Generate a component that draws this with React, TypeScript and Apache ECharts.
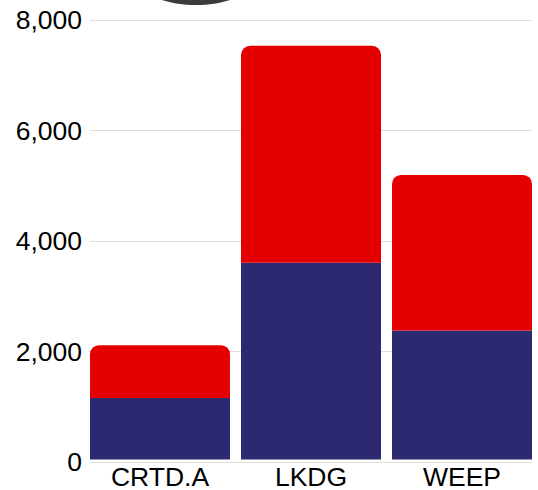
import React, { useEffect, useRef } from "react";
import * as echarts from "echarts";

const categories = ["CRTD.A", "LKDG", "WEEP"];
const blueValues = [1120, 3580, 2350];
const redValues = [960, 3950, 2830];
const yTicks = [0, 2000, 4000, 6000, 8000];

export default function App() {
  const ref = useRef<HTMLDivElement>(null);
  useEffect(() => {
    if (!ref.current) return;
    const chart = echarts.init(ref.current, undefined, { renderer: "svg" });
    const font = "Liberation Sans, Arial, sans-serif";
    chart.setOption({
      animation: false,
      grid: [
        { left: 90, right: 6, top: 20, bottom: 28 },
        { left: 84.5, right: 0.5, top: 20, bottom: 28 },
      ],
      graphic: [
        {
          type: "ellipse",
          shape: { cx: 196, cy: -20, rx: 57, ry: 25 },
          style: { fill: "#3c3c3c" },
          z: 10,
        },
      ],
      xAxis: [
        {
          type: "category",
          gridIndex: 0,
          data: categories,
          axisLine: { show: true, lineStyle: { color: "#dddddd" } },
          axisTick: { show: false },
          axisLabel: { show: false },
        },
        {
          type: "category",
          gridIndex: 1,
          data: categories,
          axisLine: { show: false },
          axisTick: { show: false },
          axisLabel: { color: "#000", fontSize: 26.5, lineHeight: 22, fontFamily: font, margin: 6 },
        },
      ],
      yAxis: [
        {
          type: "value",
          gridIndex: 0,
          min: yTicks[0],
          max: yTicks[yTicks.length - 1],
          interval: 2000,
          axisLine: { show: false },
          axisTick: { show: false },
          splitLine: { lineStyle: { color: "#dddddd", width: 1 } },
          axisLabel: {
            color: "#000",
            fontSize: 26.5,
            fontFamily: font,
            margin: 8,
            formatter: (v: number) => v.toLocaleString("en-US"),
          },
        },
        {
          type: "value",
          gridIndex: 1,
          min: yTicks[0],
          max: yTicks[yTicks.length - 1],
          interval: 2000,
          show: false,
          splitLine: { show: false },
        },
      ],
      series: [
        {
          type: "bar",
          xAxisIndex: 1,
          yAxisIndex: 1,
          stack: "total",
          barWidth: 140,
          data: blueValues,
          itemStyle: { color: "#2c2970" },
        },
        {
          type: "bar",
          xAxisIndex: 1,
          yAxisIndex: 1,
          stack: "total",
          barWidth: 140,
          data: redValues,
          itemStyle: { color: "#e50000", borderRadius: [9, 9, 0, 0] },
        },
      ],
    });
    return () => chart.dispose();
  }, []);
  return <div ref={ref} style={{ width: 538, height: 490, position: "absolute", left: 0, top: 0 }} />;
}
